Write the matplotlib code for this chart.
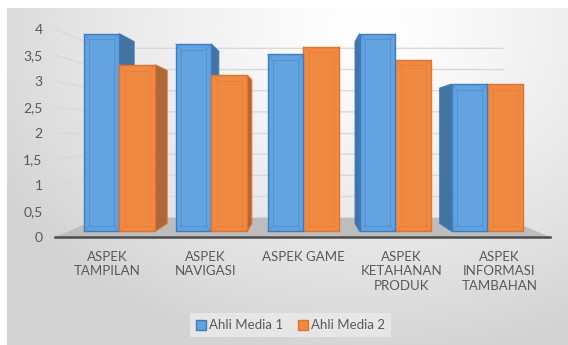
import numpy as np
import matplotlib
matplotlib.use('Agg')
import matplotlib.pyplot as plt
from matplotlib.patches import Polygon, Rectangle, Patch

categories = ['ASPEK\nTAMPILAN', 'ASPEK\nNAVIGASI', 'ASPEK GAME', 'ASPEK\nKETAHANAN\nPRODUK',
              'ASPEK\nINFORMASI\nTAMBAHAN']
media1 = [3.8, 3.6, 3.4, 3.8, 2.83]
media2 = [3.2, 3.0, 3.55, 3.3, 2.83]
series_names = ['Ahli Media 1', 'Ahli Media 2']
yticks = [0, 0.5, 1, 1.5, 2, 2.5, 3, 3.5, 4]
ytick_labels = ['0', '0,5', '1', '1,5', '2', '2,5', '3', '3,5', '4']

plt.rcParams['font.family'] = ['Lato', 'DejaVu Sans']
txt = '#595959'

# fake perspective: vanishing point and depth factors (data coords)
vx, vy = 2.0, 2.0
k_wall = 0.814
k_bar = 0.92
floor_h = 0.11
width = 0.39
x_lo, x_hi = -0.7, 4.68


def proj(x, y, k):
    return (vx + k * (x - vx), vy + k * (y - vy))


fig = plt.figure(figsize=(5.68, 3.45), dpi=100)
fig.patch.set_facecolor('white')

# background gradient
bg = fig.add_axes([7 / 568, 0, 1 - 7 / 568, 1 - 8 / 345])
bg.set_axis_off()
yy, xx = np.mgrid[0:337, 0:561]
d = np.sqrt(((xx - 360) / 420.0) ** 2 + ((yy - 20) / 330.0) ** 2)
d = np.clip(d, 0, 1)
shade = 1.0 - 0.17 * d ** 1.3
bg.imshow(np.dstack([shade, shade, shade]), aspect='auto', extent=(0, 1, 0, 1), origin='upper')
bg.set_xlim(0, 1)
bg.set_ylim(0, 1)

ax = fig.add_axes([55 / 568, (345 - 237) / 345, 495 / 568, 208 / 345])
ax.patch.set_alpha(0)
ax.set_xlim(x_lo, x_hi)
ax.set_ylim(0, 4)

# gridlines on the back wall
for v in yticks[1:]:
    wl = proj(x_lo, v, k_wall)
    wr = proj(x_hi, v, k_wall)
    ax.plot([x_lo, wl[0], wr[0]], [v, wl[1], wr[1]], color='#d9d9d9', lw=1, zorder=1,
            solid_capstyle='butt', clip_on=False)

# floor
fl = proj(x_lo, 0, k_wall)
fr = proj(x_hi, 0, k_wall)
ax.add_patch(Polygon([(x_lo, 0), (x_hi, 0), fr, fl], closed=True,
                     facecolor='#bdbdbd', edgecolor='none', zorder=2))

blue_face, blue_edge, blue_side = '#62a2de', '#3d7cc0', '#3b6d9e'
orange_face, orange_edge, orange_side = '#f08a43', '#e0722a', '#ad6030'

px = np.arange(len(categories))
bars = []
for i in px:
    b1 = (i - width, media1[i], blue_face, blue_edge, blue_side)
    b2 = (i, media2[i], orange_face, orange_edge, orange_side)
    if i < vx:
        bars += [b1, b2]
    else:
        bars += [b2, b1]

z = 3
for x0, val, face, edge, side in bars:
    x1 = x0 + width
    top = val + floor_h
    if x1 <= vx:
        e = x1
    elif x0 >= vx:
        e = x0
    else:
        e = None
    if e is not None and abs(e - vx) > 1e-6:
        pt = proj(e, top, k_bar)
        pb = proj(e, floor_h, k_bar)
        ax.add_patch(Polygon([(e, floor_h), (e, top), pt, pb], closed=True,
                             facecolor=side, edgecolor=edge, lw=0.8, alpha=0.95, zorder=z))
    ax.bar(x0, val, width=width, bottom=floor_h, align='edge', color=face,
           edgecolor=edge, linewidth=1.0, zorder=z + 1)
    # bevel lines
    ix, iy = 0.06, 0.11
    ax.add_patch(Rectangle((x0 + ix, floor_h + iy), width - 2 * ix, val - 2 * iy, fill=False,
                           edgecolor=edge, lw=0.6, alpha=0.45, zorder=z + 2))
    for cx, cix in [(x0, x0 + ix), (x1, x1 - ix)]:
        ax.plot([cx, cix], [top, top - iy], color=edge, lw=0.6, alpha=0.45, zorder=z + 2)
        ax.plot([cx, cix], [floor_h, floor_h + iy], color=edge, lw=0.6, alpha=0.45, zorder=z + 2)
    z += 3

for s in ['top', 'right', 'left']:
    ax.spines[s].set_visible(False)
ax.spines['bottom'].set_color('#4d4d4d')
ax.spines['bottom'].set_linewidth(1.8)
ax.spines['bottom'].set_zorder(50)

ax.set_yticks(yticks)
ax.set_yticklabels(ytick_labels, fontsize=10, color=txt)
ax.set_xticks(vx + (px - vx) * 1.065)
ax.set_xticklabels(categories, fontsize=9.5, color=txt, linespacing=1.25, va='top')
ax.tick_params(axis='y', length=0, pad=9)
ax.tick_params(axis='x', length=0, pad=10)

handles = [Patch(facecolor=blue_face, edgecolor=blue_edge, lw=1),
           Patch(facecolor=orange_face, edgecolor=orange_edge, lw=1)]
leg = fig.legend(handles, series_names, loc='center', bbox_to_anchor=(0.512, 0.057),
                 ncol=2, frameon=True, fontsize=9.5, handlelength=0.75, handleheight=0.75,
                 handletextpad=0.25, columnspacing=1.1, borderpad=0.45, fancybox=False)
leg.get_frame().set_facecolor('#ebebeb')
leg.get_frame().set_edgecolor('none')
for t in leg.get_texts():
    t.set_color(txt)

fig.savefig('out.png', dpi=100)
